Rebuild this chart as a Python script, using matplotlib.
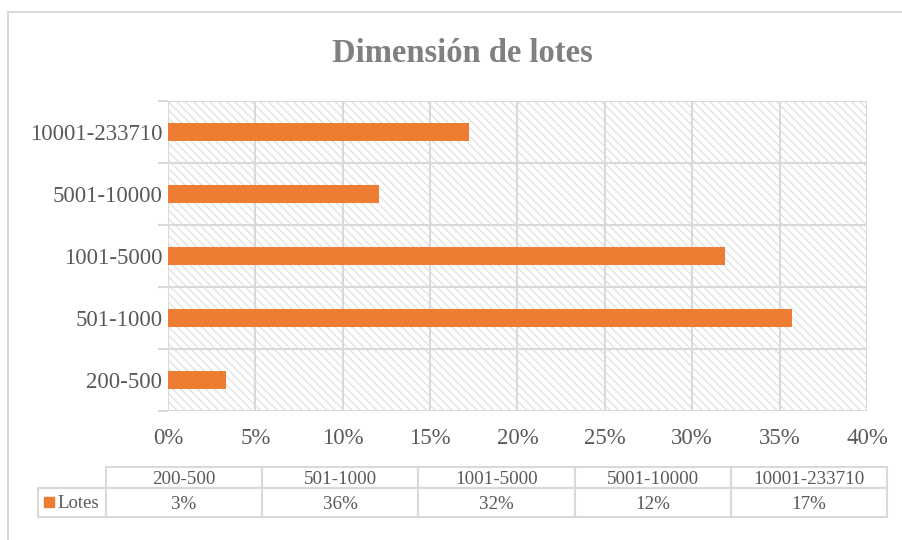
import matplotlib
matplotlib.use("Agg")
import matplotlib.pyplot as plt
from matplotlib.patches import Rectangle
from matplotlib.lines import Line2D

categories = ["200-500", "501-1000", "1001-5000", "5001-10000", "10001-233710"]
values = [3.3, 35.7, 31.9, 12.1, 17.2]
table_labels = ["3%", "36%", "32%", "12%", "17%"]
series_name = "Lotes"
xticks = [0, 5, 10, 15, 20, 25, 30, 35, 40]
title = "Dimensión de lotes"

W, H = 903, 540
plt.rcParams['font.family'] = ['Liberation Serif', 'DejaVu Serif']
plt.rcParams['hatch.linewidth'] = 0.9
plt.rcParams['hatch.color'] = '#E0E0E0'

fig = plt.figure(figsize=(W/100, H/100), dpi=100)

def fx(px):
    return px / W

def fy(py):
    return 1 - py / H

# outer chart border (top & left visible)
fig.add_artist(Line2D([fx(8), fx(8)], [fy(12), fy(545)], color='#D9D9D9', lw=1.5, transform=fig.transFigure))
fig.add_artist(Line2D([fx(8), fx(905)], [fy(12), fy(12)], color='#D9D9D9', lw=1.5, transform=fig.transFigure))

L, R, T, B = 168, 867, 101, 411
ax = fig.add_axes([fx(L), fy(B), fx(R - L), (B - T) / H])

grid = '#D9D9D9'
ax.set_xlim(0, 40)
ax.set_ylim(-0.5, len(categories) - 0.5)

# hatched background
bg = Rectangle((0, 0), 1, 1, transform=ax.transAxes, facecolor='white',
               edgecolor='#E0E0E0', hatch='\\\\\\\\', lw=0, zorder=0)
ax.add_patch(bg)

for x in xticks:
    ax.axvline(x, color=grid, lw=1.5, zorder=1)
for i in range(len(categories) + 1):
    ax.axhline(i - 0.5, color=grid, lw=1.5, zorder=1)

ax.barh(range(len(categories)), values, height=0.3, color='#ED7D31', zorder=3)

for s in ax.spines.values():
    s.set_visible(False)

ax.set_xticks(xticks)
ax.set_xticklabels([f"{x}%" for x in xticks], fontsize=16.5, color='#595959')
ax.set_yticks([i - 0.5 for i in range(len(categories) + 1)], minor=False)
ax.set_yticklabels([])
ax.tick_params(axis='y', length=7, color=grid, width=1.5, direction='out')
ax.set_yticks(range(len(categories)), minor=True)
ax.set_yticklabels(categories, minor=True, fontsize=16.5, color='#595959')
ax.tick_params(axis='y', which='minor', length=0, pad=4)
ax.tick_params(axis='x', length=0, pad=12)

fig.text(fx(462), fy(62), title, ha='center', va='baseline', fontsize=23.5,
         fontweight='bold', color='#808080')

# data table
tL, tR, tT, tB = 38, 887, 467, 517
tMid = 488
def ax_x(px):
    return (px - L) / (R - L)
def ax_y(py):
    return (B - py) / (B - T)

cell_text = [[""] + categories, [""] + table_labels]
label_w = 106 - tL
data_w = (tR - 106) / len(categories)
colw = [label_w] + [data_w] * len(categories)
tot = sum(colw)
colw = [c / tot for c in colw]
tbl = ax.table(cellText=cell_text, colWidths=colw, cellLoc='center',
               bbox=[ax_x(tL), ax_y(tB), ax_x(tR) - ax_x(tL), ax_y(tT) - ax_y(tB)])
tbl.auto_set_font_size(False)
row_h = {0: (tMid - tT) / (tB - tT), 1: (tB - tMid) / (tB - tT)}
for (r, c), cell in tbl.get_celld().items():
    cell.set_edgecolor(grid)
    cell.set_linewidth(1.5)
    cell.set_height(row_h[r])
    cell.get_text().set_fontsize(13.7)
    cell.get_text().set_color('#595959')
    cell.get_text().set_va('center_baseline')
    if r == 0 and c == 0:
        cell.visible_edges = ''

fig.add_artist(Rectangle((fx(44), fy(507)), fx(54) - fx(44), fy(497) - fy(507),
                         transform=fig.transFigure, color='#ED7D31'))
fig.text(fx(57), fy(508), series_name, ha='left', va='baseline', fontsize=13.5,
         color='#595959')

fig.savefig("out.png", dpi=100)
